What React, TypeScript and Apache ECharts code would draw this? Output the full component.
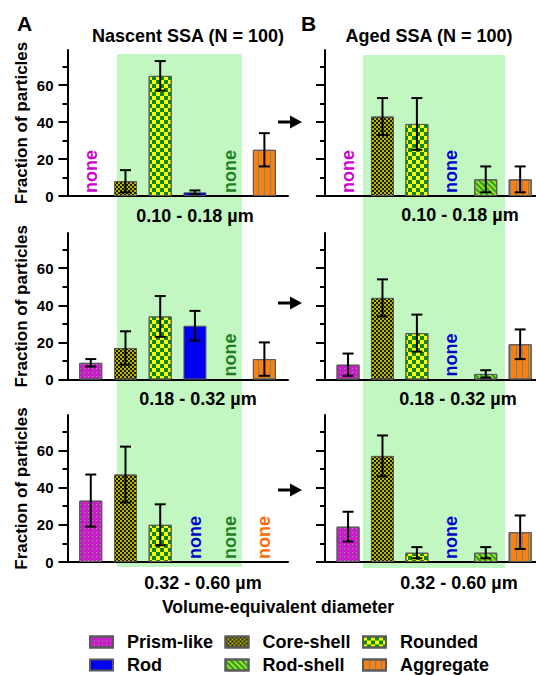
import React, { useEffect, useRef } from 'react';
import * as echarts from 'echarts';

const FONT = '"Liberation Sans", Arial, Helvetica, sans-serif';

const particleTypes = ['Prism-like', 'Core-shell', 'Rounded', 'Rod', 'Rod-shell', 'Aggregate'];
const sizeRanges = ['0.10 - 0.18 µm', '0.18 - 0.32 µm', '0.32 - 0.60 µm'];
const panelTitles = ['Nascent SSA (N = 100)', 'Aged SSA (N = 100)'];
const panelLetters = ['A', 'B'];

// null = "none" (no particles of that type)
const nascentValues = [
  [null, 8, 65, 2, null, 25],
  [9, 17, 34, 29, null, 11],
  [33, 47, 20, null, null, null],
];
const nascentErrors = [
  [null, 6, 8, 1, null, 9],
  [2, 9, 11, 8, null, 9],
  [14, 15, 11, null, null, null],
];
const agedValues = [
  [null, 43, 39, null, 9, 9],
  [8, 44, 25, null, 3, 19],
  [19, 57, 5, null, 5, 16],
];
const agedErrors = [
  [null, 10, 14, null, 7, 7],
  [6, 10, 10, null, 2, 8],
  [8, 11, 3, null, 3, 9],
];

const yMajorTicks = [0, 20, 40, 60];
const yMinorTicks = [0, 10, 20, 30, 40, 50, 60, 70];
const Y_MAX = 79;

const noneColors = ['#CC00CC', '#666600', '#008000', '#0000CC', '#1E7F1E', '#FF6A00'];
const GREEN = '#C2F7C2';

const barStyles: any[] = [
  {
    color: '#C81EC8',
    decal: { symbol: 'rect', symbolSize: 1, color: '#7DB07D', dashArrayX: [1, 3], dashArrayY: [1, 3] },
  },
  {
    color: '#B8B800',
    decal: { symbol: 'rect', symbolSize: 1, color: '#1A1A00', dashArrayX: [[2, 2], [0, 2, 2, 0]], dashArrayY: [2, 0] },
  },
  {
    color: '#FFFF00',
    decal: { symbol: 'rect', symbolSize: 1, color: '#0A8A0A', dashArrayX: [[4, 4], [0, 4, 4, 0]], dashArrayY: [4, 0] },
  },
  { color: '#0000F0' },
  {
    color: '#A6DC28',
    decal: { symbol: 'rect', symbolSize: 1, color: '#25A025', dashArrayX: [1, 0], dashArrayY: [2, 2], rotation: Math.PI / 4 },
  },
  {
    color: '#FF7F0E',
    decal: { symbol: 'rect', symbolSize: 1, color: '#5F8C8C', dashArrayX: [1, 5], dashArrayY: [1, 0] },
  },
];

function buildOption() {
  const panels = [
    { values: nascentValues, errors: nascentErrors, left: 67.5, width: 220.5, xMax: 5.68, labels: true },
    { values: agedValues, errors: agedErrors, left: 325, width: 211, xMax: 5.46, labels: false },
  ];
  const rows = [
    { top: 50, height: 146 },
    { top: 233, height: 146.5 },
    { top: 415, height: 147 },
  ];
  const grid: any[] = [];
  const xAxis: any[] = [];
  const yAxis: any[] = [];
  const series: any[] = [];

  panels.forEach((p, pi) => {
    rows.forEach((r, ri) => {
      const g = pi * 3 + ri;
      grid.push({ left: p.left, width: p.width, top: r.top, height: r.height });
      xAxis.push({
        type: 'value', gridIndex: g, min: -0.67, max: p.xMax, position: 'bottom',
        axisLine: { show: true, onZero: false, lineStyle: { color: '#000', width: 2 } },
        axisTick: { show: false }, axisLabel: { show: false }, splitLine: { show: false },
      });
      yAxis.push({
        type: 'value', gridIndex: g, min: 0, max: Y_MAX, position: 'left',
        axisLine: { show: true, onZero: false, lineStyle: { color: '#000', width: 2 } },
        axisTick: { show: true, customValues: yMajorTicks, length: 9, lineStyle: { color: '#000', width: 2 } },
        axisLabel: {
          show: p.labels, customValues: yMajorTicks, fontSize: 15, fontWeight: 'bold',
          color: '#000', fontFamily: FONT, margin: 14,
        },
        splitLine: { show: false },
        name: p.labels ? 'Fraction of particles' : '',
        nameLocation: 'middle', nameGap: 38,
        nameTextStyle: { fontSize: 17, fontWeight: 'bold', color: '#000', fontFamily: FONT },
      });
      yAxis.push({
        type: 'value', gridIndex: g, min: 0, max: Y_MAX, position: 'left', offset: 0,
        axisLine: { show: false, onZero: false },
        axisTick: { show: true, customValues: yMinorTicks, length: 5, lineStyle: { color: '#000', width: 2 } },
        axisLabel: { show: false }, splitLine: { show: false },
      });
      const vals = p.values[ri];
      const errs = p.errors[ri];
      particleTypes.forEach((name, t) => {
        series.push({
          type: 'bar', name, xAxisIndex: g, yAxisIndex: g * 2,
          data: vals[t] != null ? [[t, vals[t]]] : [],
          barWidth: 23, barGap: '-100%',
          itemStyle: { ...barStyles[t], borderColor: '#5a5a5a', borderWidth: 1 },
          z: 2,
        });
      });
      const errData: number[][] = [];
      const noneData: number[][] = [];
      vals.forEach((v, t) => {
        if (v == null) noneData.push([t, 0]);
        else errData.push([t, v - (errs[t] as number), v + (errs[t] as number)]);
      });
      series.push({
        type: 'custom', xAxisIndex: g, yAxisIndex: g * 2, data: errData, z: 5,
        encode: { x: 0, y: [1, 2] },
        renderItem: (params: any, api: any) => {
          const x = api.value(0);
          const lo = api.coord([x, api.value(1)]);
          const hi = api.coord([x, api.value(2)]);
          const w = 5.5;
          const style = { stroke: '#000', lineWidth: 2 };
          return {
            type: 'group',
            children: [
              { type: 'line', shape: { x1: lo[0], y1: lo[1], x2: hi[0], y2: hi[1] }, style },
              { type: 'line', shape: { x1: lo[0] - w, y1: lo[1], x2: lo[0] + w, y2: lo[1] }, style },
              { type: 'line', shape: { x1: hi[0] - w, y1: hi[1], x2: hi[0] + w, y2: hi[1] }, style },
            ],
          };
        },
      });
      series.push({
        type: 'custom', xAxisIndex: g, yAxisIndex: g * 2, data: noneData, z: 5,
        encode: { x: 0, y: 1 },
        renderItem: (params: any, api: any) => {
          const t = api.value(0);
          const pt = api.coord([t, 0]);
          return {
            type: 'text', x: pt[0], y: pt[1] - 3, rotation: Math.PI / 2,
            style: {
              text: 'none', fill: noneColors[t], font: `bold 18px ${FONT}`,
              align: 'left', verticalAlign: 'middle', textAlign: 'left', textVerticalAlign: 'middle',
            },
          };
        },
      });
    });
  });

  const txt = (text: string, x: number, y: number, size: number, align = 'center') => ({
    type: 'text', x, y, z: 10,
    style: {
      text, fill: '#000', font: `bold ${size}px ${FONT}`,
      align, verticalAlign: 'middle', textAlign: align, textVerticalAlign: 'middle',
    },
  });
  const arrow = (y: number) => ({
    type: 'group', z: 10,
    children: [
      { type: 'line', shape: { x1: 278, y1: y, x2: 292, y2: y }, style: { stroke: '#000', lineWidth: 3 } },
      { type: 'polygon', shape: { points: [[290, y - 6.5], [302, y], [290, y + 6.5]] }, style: { fill: '#000' } },
    ],
  });

  const graphic = [
    { type: 'rect', z: -10, shape: { x: 117, y: 54, width: 125, height: 513 }, style: { fill: GREEN } },
    { type: 'rect', z: -10, shape: { x: 363, y: 55, width: 142, height: 513 }, style: { fill: GREEN } },
    txt(panelLetters[0], 17, 23, 21, 'left'),
    txt(panelLetters[1], 301, 23, 21, 'left'),
    txt(panelTitles[0], 188, 36, 18),
    txt(panelTitles[1], 429, 36, 18),
    txt(sizeRanges[0], 195, 216, 18),
    txt(sizeRanges[1], 198, 399, 18),
    txt(sizeRanges[2], 203, 583, 18),
    txt(sizeRanges[0], 460, 215, 18),
    txt(sizeRanges[1], 458, 399, 18),
    txt(sizeRanges[2], 459, 583, 18),
    txt('Volume-equivalent diameter', 278, 607, 17.5),
    arrow(122),
    arrow(303),
    arrow(490),
  ];

  const legendCommon = {
    orient: 'vertical', icon: 'rect', itemWidth: 23, itemHeight: 11, itemGap: 5,
    selectedMode: false, padding: 0, top: 633,
    textStyle: { fontSize: 18, fontWeight: 'bold', color: '#000', fontFamily: FONT, padding: [0, 0, 0, 9] },
  };
  const legend = [
    { ...legendCommon, left: 89, data: ['Prism-like', 'Rod'] },
    { ...legendCommon, left: 224.5, data: ['Core-shell', 'Rod-shell'] },
    { ...legendCommon, left: 362, data: ['Rounded', 'Aggregate'] },
  ];

  return {
    animation: false,
    backgroundColor: '#fff',
    textStyle: { fontFamily: FONT },
    grid, xAxis, yAxis, series, legend,
    graphic: { elements: graphic },
  };
}

export default function App() {
  const ref = useRef<HTMLDivElement>(null);
  useEffect(() => {
    document.body.style.margin = '0';
    const chart = echarts.init(ref.current as HTMLDivElement, null, { renderer: 'svg' });
    chart.setOption(buildOption() as any);
    return () => chart.dispose();
  }, []);
  return <div ref={ref} style={{ width: 536, height: 675 }} />;
}
